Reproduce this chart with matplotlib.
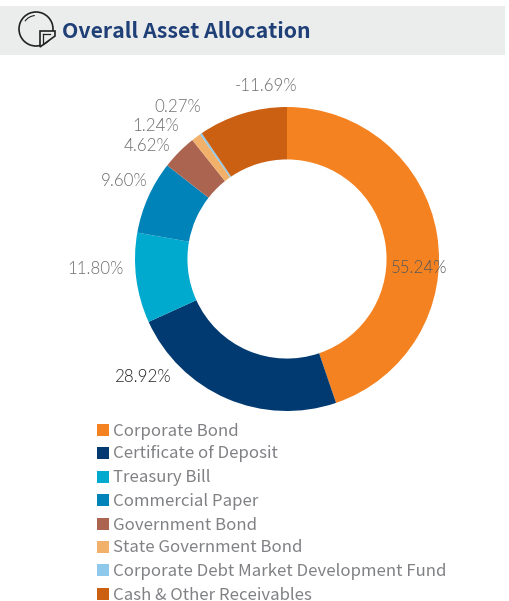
import matplotlib
matplotlib.use('Agg')
import matplotlib.pyplot as plt
from matplotlib.patches import Rectangle, Arc, Polygon

categories = ['Corporate Bond', 'Certificate of Deposit', 'Treasury Bill', 'Commercial Paper',
              'Government Bond', 'State Government Bond',
              'Corporate Debt Market Development Fund', 'Cash & Other Receivables']
values = [55.24, 28.92, 11.80, 9.60, 4.62, 1.24, 0.27, -11.69]
colors = ['#f58220', '#003a70', '#00a9ce', '#0083b8', '#ab6450', '#f1b16b', '#8ec8ea', '#cb5f12']
labels = ['55.24%', '28.92%', '11.80%', '9.60%', '4.62%', '1.24%', '0.27%', '-11.69%']
label_x = [447, 172, 124, 148, 170, 179, 201, 297]
label_y = [268, 377, 269, 181, 146, 126, 107, 86]
label_col = ['#58595b', '#222222', '#6d6e71', '#6d6e71', '#6d6e71', '#6d6e71', '#6d6e71', '#6d6e71']
legend_y = [430, 453, 477, 500, 524, 547, 570, 594]

W, H = 510, 601
fig = plt.figure(figsize=(W / 100, H / 100), dpi=100)
ax = fig.add_axes([0, 0, 1, 1])
ax.set_xlim(0, W)
ax.set_ylim(H, 0)
ax.axis('off')

# header
ax.add_patch(Rectangle((0, 6), 505, 49, color='#ebeded', lw=0))
ax.add_patch(Arc((36, 29), 34, 34, theta1=0, theta2=360, color='#222222', lw=1.2))
ax.add_patch(Arc((36, 29), 27, 27, theta1=215, theta2=265, color='#222222', lw=0.8))
ax.add_patch(Polygon([(40, 31), (55, 31), (55, 36), (40, 47)], closed=True, fc='#ebeded',
                     ec='#222222', lw=1.2, zorder=3))
ax.plot([43, 43], [34, 43], color='#222222', lw=0.9, zorder=4)
ax.plot([43, 50], [34, 34], color='#222222', lw=0.9, zorder=4)
ax.text(62, 32, 'Overall Asset Allocation', fontsize=15.3, fontweight='bold',
        family='Noto Sans CJK JP', color='#1f3f77', ha='left', va='center')

# donut, on a small axes of its own so y points up
cx, cy, r = 287, 259, 152
pie_ax = fig.add_axes([(cx - r) / W, 1 - (cy + r) / H, 2 * r / W, 2 * r / H])
pie_ax.pie([abs(v) for v in values], colors=colors, startangle=90, counterclock=False,
           radius=1, wedgeprops=dict(width=0.345, linewidth=0))
pie_ax.set_xlim(-1, 1)
pie_ax.set_ylim(-1, 1)

# text goes on top of the donut
top = fig.add_axes([0, 0, 1, 1])
top.set_xlim(0, W)
top.set_ylim(H, 0)
top.axis('off')
for x, y, s, c in zip(label_x, label_y, labels, label_col):
    top.text(x, y, s, fontsize=12.2, family='Lato', fontweight=300, color=c,
             ha='right', va='center')

for y, name, c in zip(legend_y, categories, colors):
    top.add_patch(Rectangle((97, y - 6), 12, 12, color=c, lw=0))
    top.text(113, y + 1, name, fontsize=12.1, family='Noto Sans CJK JP', color='#808184',
             ha='left', va='center')

plt.savefig('out.png', dpi=100, facecolor='white')
